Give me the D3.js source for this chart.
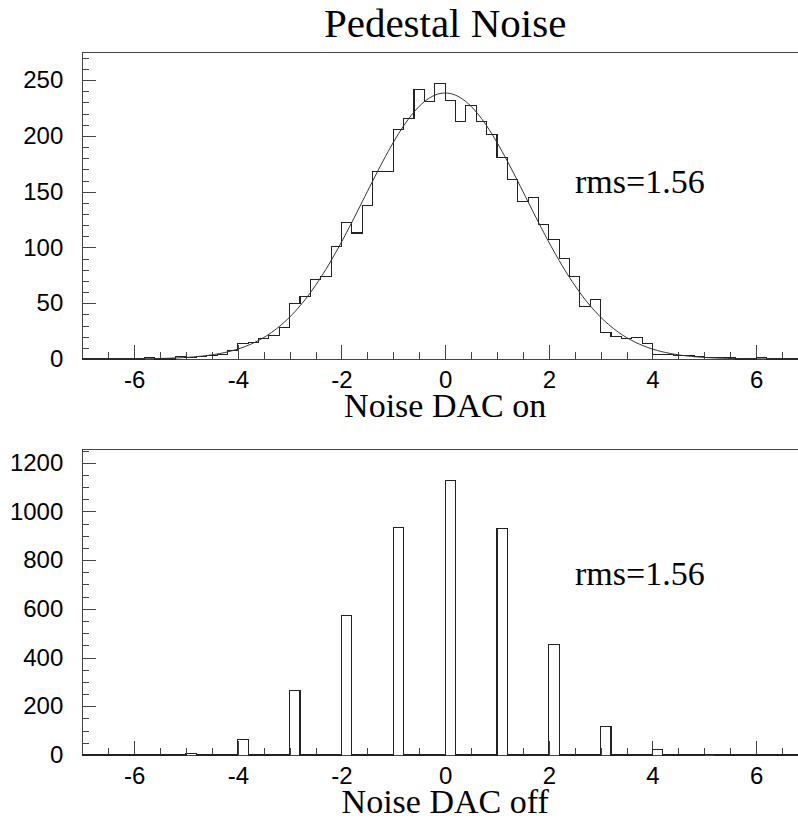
<!DOCTYPE html>
<html>
<head>
<meta charset="utf-8">
<script src="https://cdn.jsdelivr.net/npm/d3@7"></script>
<style>
  body { margin: 0; background: #fff; }
  svg { display: block; }
</style>
</head>
<body>
<svg id="chart" width="798" height="819"></svg>
<script>
// Histogram binning: 70 bins of width 0.2 from -7 to 7
const binLow = -7;
const binWidth = 0.2;

// Pedestal noise with the noise DAC switched on (counts per bin)
const dacOnCounts = [
  0, 0, 0, 0, 0, 0, 1, 0, 0, 2,
  1, 2, 3, 4, 8, 14, 15, 18, 21, 28,
  50, 56, 71, 74, 101, 122, 113, 138, 168, 168,
  206, 216, 242, 231, 247, 232, 213, 227, 213, 201,
  181, 161, 141, 145, 121, 107, 90, 74, 47, 53,
  24, 20, 18, 19, 14, 4, 4, 3, 3, 2,
  1, 1, 1, 0, 0, 1, 0, 0, 0, 0
];

// Pedestal noise with the noise DAC switched off: only integer values occur
const dacOffCounts = [
  0, 0, 0, 0, 0, 0, 0, 0, 0, 0,
  8, 0, 0, 0, 0, 63, 0, 0, 0, 0,
  264, 0, 0, 0, 0, 573, 0, 0, 0, 0,
  933, 0, 0, 0, 0, 1128, 0, 0, 0, 0,
  929, 0, 0, 0, 0, 453, 0, 0, 0, 0,
  118, 0, 0, 0, 0, 23, 0, 0, 0, 0,
  3, 0, 0, 0, 0, 0, 0, 0, 0, 0
];

// Gaussian fit to the DAC-on distribution
const fitConstant = 238.5;
const fitMean = 0.0;
const fitSigma = 1.56;

// Axis ticks and texts
const xDomain = [-7, 7];
const xMajorTicks = [-6, -4, -2, 0, 2, 4, 6];
const xMinorStep = 0.5;
const topYMax = 275;
const topYMajor = [0, 50, 100, 150, 200, 250];
const topYMinorStep = 10;
const botYMax = 1255;
const botYMajor = [0, 200, 400, 600, 800, 1000, 1200];
const botYMinorStep = 50;
const chartTitle = "Pedestal Noise";
const topAxisTitle = "Noise DAC on";
const botAxisTitle = "Noise DAC off";
const rmsText = "rms=1.56";

const svg = d3.select("#chart");
const W = 798, H = 819;
svg.append("rect").attr("width", W).attr("height", H).attr("fill", "#fff");

// the frame runs to x = 7, just past the right edge of the page
const frameLeft = 82.3, frameRight = 808;
const x = d3.scaleLinear().domain(xDomain).range([frameLeft, frameRight]);

const sansFont = "'Liberation Sans', Arial, Helvetica, sans-serif";
const serifFont = "'Liberation Serif', 'Times New Roman', Times, serif";

svg.append("text")
  .attr("x", x(0)).attr("y", 37)
  .attr("text-anchor", "middle")
  .attr("font-family", serifFont)
  .attr("font-size", 41)
  .attr("fill", "#000")
  .text(chartTitle);

function minorValues(lo, hi, step, majors) {
  const out = [];
  const n = Math.round((hi - lo) / step);
  for (let i = 0; i <= n; i++) {
    const v = +(lo + i * step).toFixed(6);
    if (!majors.some(m => Math.abs(m - v) < 1e-9)) out.push(v);
  }
  return out;
}

function drawPanel(cfg) {
  const y = d3.scaleLinear().domain([0, cfg.yMax]).range([cfg.bottom, cfg.top]);
  const g = svg.append("g");

  // frame
  g.append("path")
    .attr("d", `M${frameRight},${cfg.top}H${frameLeft}V${cfg.bottom}H${frameRight}`)
    .attr("fill", "none")
    .attr("stroke", "#444")
    .attr("stroke-width", 1)
    .attr("shape-rendering", "crispEdges");

  // x axis: major and minor ticks pointing into the frame
  const xMinor = minorValues(-6.5, 6.5, xMinorStep, xMajorTicks);
  g.append("g")
    .attr("transform", `translate(0,${cfg.bottom})`)
    .call(d3.axisBottom(x).tickValues(xMinor).tickSize(-7).tickFormat(""))
    .call(a => a.select(".domain").remove());
  g.append("g")
    .attr("transform", `translate(0,${cfg.bottom})`)
    .call(d3.axisBottom(x).tickValues(xMajorTicks).tickSize(-14).tickPadding(12)
      .tickFormat(d => String(d)))
    .call(a => a.select(".domain").remove())
    .call(a => a.selectAll("text")
      .attr("font-family", sansFont).attr("font-size", 24).attr("fill", "#000"));

  // y axis
  const yMinor = minorValues(0, cfg.yMax, cfg.yMinorStep, cfg.yMajor)
    .filter(v => v <= cfg.yMax);
  g.append("g")
    .attr("transform", `translate(${frameLeft},0)`)
    .call(d3.axisLeft(y).tickValues(yMinor).tickSize(-7).tickFormat(""))
    .call(a => a.select(".domain").remove());
  g.append("g")
    .attr("transform", `translate(${frameLeft},0)`)
    .call(d3.axisLeft(y).tickValues(cfg.yMajor).tickSize(-14).tickPadding(19)
      .tickFormat(d => String(d)))
    .call(a => a.select(".domain").remove())
    .call(a => a.selectAll("text")
      .attr("font-family", sansFont).attr("font-size", 24).attr("fill", "#000"));

  g.selectAll(".tick line")
    .attr("stroke", "#444")
    .attr("shape-rendering", "crispEdges");

  // histogram outline
  const pts = [[xDomain[0], 0]];
  cfg.counts.forEach((c, i) => {
    const lo = binLow + i * binWidth, hi = lo + binWidth;
    pts.push([lo, c], [hi, c]);
  });
  pts.push([xDomain[1], 0]);
  const line = d3.line().x(d => x(d[0])).y(d => y(d[1]));
  g.append("path")
    .attr("d", line(pts))
    .attr("fill", "none")
    .attr("stroke", "#222")
    .attr("stroke-width", 1.1)
    .attr("shape-rendering", "crispEdges");

  if (cfg.fit) {
    const fx = d3.range(xDomain[0], xDomain[1] + 1e-9, 0.05);
    const fitPts = fx.map(v => [v, fitConstant * Math.exp(-0.5 * ((v - fitMean) / fitSigma) ** 2)]);
    g.append("path")
      .attr("d", line(fitPts))
      .attr("fill", "none")
      .attr("stroke", "#333")
      .attr("stroke-width", 1);
  }

  g.append("text")
    .attr("x", 575).attr("y", cfg.rmsY)
    .attr("font-family", serifFont)
    .attr("font-size", 34)
    .attr("fill", "#000")
    .text(rmsText);

  g.append("text")
    .attr("x", x(0)).attr("y", cfg.bottom + 58)
    .attr("text-anchor", "middle")
    .attr("font-family", serifFont)
    .attr("font-size", 34)
    .attr("fill", "#000")
    .text(cfg.axisTitle);
}

drawPanel({
  top: 52.3, bottom: 359, yMax: topYMax, yMajor: topYMajor, yMinorStep: topYMinorStep,
  counts: dacOnCounts, fit: true, rmsY: 193, axisTitle: topAxisTitle
});
drawPanel({
  top: 449.3, bottom: 755, yMax: botYMax, yMajor: botYMajor, yMinorStep: botYMinorStep,
  counts: dacOffCounts, fit: false, rmsY: 585, axisTitle: botAxisTitle
});
</script>
</body>
</html>
